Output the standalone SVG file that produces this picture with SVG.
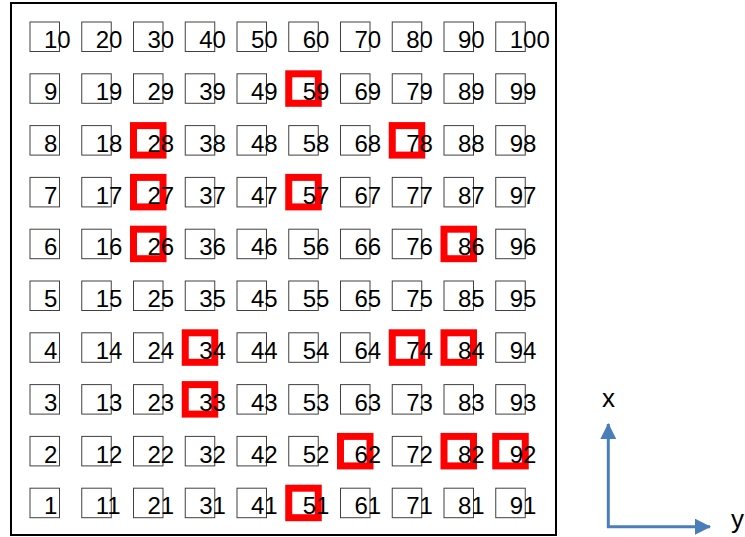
<svg xmlns="http://www.w3.org/2000/svg" width="745" height="537" viewBox="0 0 745 537">
<style>
text{font-family:"Liberation Sans",Arial,sans-serif;font-size:24px;fill:#000}
.lab{font-size:26px}
.b{fill:none;stroke:#404040;stroke-width:1}
.r{fill:none;stroke:#ff0000;stroke-width:7}
.ax{stroke:#4a7ebb;stroke-width:3;fill:none}
</style>
<defs>
<marker id="ah" markerUnits="userSpaceOnUse" markerWidth="16" markerHeight="16" refX="15" refY="8" orient="auto">
<path d="M0,0 L16,8 L0,16 Z" fill="#4a7ebb"/>
</marker>
</defs>
<rect x="11" y="3" width="545" height="532" fill="#fff" stroke="#000" stroke-width="2"/>
<g id="row0">
<g id="n10" transform="translate(30,22)"><rect class="b" width="29.5" height="29.5"/><text x="14" y="26.3">10</text></g>
<g id="n20" transform="translate(81.75,22)"><rect class="b" width="29.5" height="29.5"/><text x="14" y="26.3">20</text></g>
<g id="n30" transform="translate(133.5,22)"><rect class="b" width="29.5" height="29.5"/><text x="14" y="26.3">30</text></g>
<g id="n40" transform="translate(185.25,22)"><rect class="b" width="29.5" height="29.5"/><text x="14" y="26.3">40</text></g>
<g id="n50" transform="translate(237,22)"><rect class="b" width="29.5" height="29.5"/><text x="14" y="26.3">50</text></g>
<g id="n60" transform="translate(288.75,22)"><rect class="b" width="29.5" height="29.5"/><text x="14" y="26.3">60</text></g>
<g id="n70" transform="translate(340.5,22)"><rect class="b" width="29.5" height="29.5"/><text x="14" y="26.3">70</text></g>
<g id="n80" transform="translate(392.25,22)"><rect class="b" width="29.5" height="29.5"/><text x="14" y="26.3">80</text></g>
<g id="n90" transform="translate(444,22)"><rect class="b" width="29.5" height="29.5"/><text x="14" y="26.3">90</text></g>
<g id="n100" transform="translate(495.75,22)"><rect class="b" width="29.5" height="29.5"/><text x="14" y="26.3">100</text></g>
</g>
<g id="row1">
<g id="n9" transform="translate(30,73.8)"><rect class="b" width="29.5" height="29.5"/><text x="14" y="26.3">9</text></g>
<g id="n19" transform="translate(81.75,73.8)"><rect class="b" width="29.5" height="29.5"/><text x="14" y="26.3">19</text></g>
<g id="n29" transform="translate(133.5,73.8)"><rect class="b" width="29.5" height="29.5"/><text x="14" y="26.3">29</text></g>
<g id="n39" transform="translate(185.25,73.8)"><rect class="b" width="29.5" height="29.5"/><text x="14" y="26.3">39</text></g>
<g id="n49" transform="translate(237,73.8)"><rect class="b" width="29.5" height="29.5"/><text x="14" y="26.3">49</text></g>
<g id="n59" transform="translate(288.75,73.8)"><rect class="r" width="29.5" height="29.5"/><text x="14" y="26.3">59</text></g>
<g id="n69" transform="translate(340.5,73.8)"><rect class="b" width="29.5" height="29.5"/><text x="14" y="26.3">69</text></g>
<g id="n79" transform="translate(392.25,73.8)"><rect class="b" width="29.5" height="29.5"/><text x="14" y="26.3">79</text></g>
<g id="n89" transform="translate(444,73.8)"><rect class="b" width="29.5" height="29.5"/><text x="14" y="26.3">89</text></g>
<g id="n99" transform="translate(495.75,73.8)"><rect class="b" width="29.5" height="29.5"/><text x="14" y="26.3">99</text></g>
</g>
<g id="row2">
<g id="n8" transform="translate(30,125.6)"><rect class="b" width="29.5" height="29.5"/><text x="14" y="26.3">8</text></g>
<g id="n18" transform="translate(81.75,125.6)"><rect class="b" width="29.5" height="29.5"/><text x="14" y="26.3">18</text></g>
<g id="n28" transform="translate(133.5,125.6)"><rect class="r" width="29.5" height="29.5"/><text x="14" y="26.3">28</text></g>
<g id="n38" transform="translate(185.25,125.6)"><rect class="b" width="29.5" height="29.5"/><text x="14" y="26.3">38</text></g>
<g id="n48" transform="translate(237,125.6)"><rect class="b" width="29.5" height="29.5"/><text x="14" y="26.3">48</text></g>
<g id="n58" transform="translate(288.75,125.6)"><rect class="b" width="29.5" height="29.5"/><text x="14" y="26.3">58</text></g>
<g id="n68" transform="translate(340.5,125.6)"><rect class="b" width="29.5" height="29.5"/><text x="14" y="26.3">68</text></g>
<g id="n78" transform="translate(392.25,125.6)"><rect class="r" width="29.5" height="29.5"/><text x="14" y="26.3">78</text></g>
<g id="n88" transform="translate(444,125.6)"><rect class="b" width="29.5" height="29.5"/><text x="14" y="26.3">88</text></g>
<g id="n98" transform="translate(495.75,125.6)"><rect class="b" width="29.5" height="29.5"/><text x="14" y="26.3">98</text></g>
</g>
<g id="row3">
<g id="n7" transform="translate(30,177.4)"><rect class="b" width="29.5" height="29.5"/><text x="14" y="26.3">7</text></g>
<g id="n17" transform="translate(81.75,177.4)"><rect class="b" width="29.5" height="29.5"/><text x="14" y="26.3">17</text></g>
<g id="n27" transform="translate(133.5,177.4)"><rect class="r" width="29.5" height="29.5"/><text x="14" y="26.3">27</text></g>
<g id="n37" transform="translate(185.25,177.4)"><rect class="b" width="29.5" height="29.5"/><text x="14" y="26.3">37</text></g>
<g id="n47" transform="translate(237,177.4)"><rect class="b" width="29.5" height="29.5"/><text x="14" y="26.3">47</text></g>
<g id="n57" transform="translate(288.75,177.4)"><rect class="r" width="29.5" height="29.5"/><text x="14" y="26.3">57</text></g>
<g id="n67" transform="translate(340.5,177.4)"><rect class="b" width="29.5" height="29.5"/><text x="14" y="26.3">67</text></g>
<g id="n77" transform="translate(392.25,177.4)"><rect class="b" width="29.5" height="29.5"/><text x="14" y="26.3">77</text></g>
<g id="n87" transform="translate(444,177.4)"><rect class="b" width="29.5" height="29.5"/><text x="14" y="26.3">87</text></g>
<g id="n97" transform="translate(495.75,177.4)"><rect class="b" width="29.5" height="29.5"/><text x="14" y="26.3">97</text></g>
</g>
<g id="row4">
<g id="n6" transform="translate(30,229.2)"><rect class="b" width="29.5" height="29.5"/><text x="14" y="26.3">6</text></g>
<g id="n16" transform="translate(81.75,229.2)"><rect class="b" width="29.5" height="29.5"/><text x="14" y="26.3">16</text></g>
<g id="n26" transform="translate(133.5,229.2)"><rect class="r" width="29.5" height="29.5"/><text x="14" y="26.3">26</text></g>
<g id="n36" transform="translate(185.25,229.2)"><rect class="b" width="29.5" height="29.5"/><text x="14" y="26.3">36</text></g>
<g id="n46" transform="translate(237,229.2)"><rect class="b" width="29.5" height="29.5"/><text x="14" y="26.3">46</text></g>
<g id="n56" transform="translate(288.75,229.2)"><rect class="b" width="29.5" height="29.5"/><text x="14" y="26.3">56</text></g>
<g id="n66" transform="translate(340.5,229.2)"><rect class="b" width="29.5" height="29.5"/><text x="14" y="26.3">66</text></g>
<g id="n76" transform="translate(392.25,229.2)"><rect class="b" width="29.5" height="29.5"/><text x="14" y="26.3">76</text></g>
<g id="n86" transform="translate(444,229.2)"><rect class="r" width="29.5" height="29.5"/><text x="14" y="26.3">86</text></g>
<g id="n96" transform="translate(495.75,229.2)"><rect class="b" width="29.5" height="29.5"/><text x="14" y="26.3">96</text></g>
</g>
<g id="row5">
<g id="n5" transform="translate(30,281)"><rect class="b" width="29.5" height="29.5"/><text x="14" y="26.3">5</text></g>
<g id="n15" transform="translate(81.75,281)"><rect class="b" width="29.5" height="29.5"/><text x="14" y="26.3">15</text></g>
<g id="n25" transform="translate(133.5,281)"><rect class="b" width="29.5" height="29.5"/><text x="14" y="26.3">25</text></g>
<g id="n35" transform="translate(185.25,281)"><rect class="b" width="29.5" height="29.5"/><text x="14" y="26.3">35</text></g>
<g id="n45" transform="translate(237,281)"><rect class="b" width="29.5" height="29.5"/><text x="14" y="26.3">45</text></g>
<g id="n55" transform="translate(288.75,281)"><rect class="b" width="29.5" height="29.5"/><text x="14" y="26.3">55</text></g>
<g id="n65" transform="translate(340.5,281)"><rect class="b" width="29.5" height="29.5"/><text x="14" y="26.3">65</text></g>
<g id="n75" transform="translate(392.25,281)"><rect class="b" width="29.5" height="29.5"/><text x="14" y="26.3">75</text></g>
<g id="n85" transform="translate(444,281)"><rect class="b" width="29.5" height="29.5"/><text x="14" y="26.3">85</text></g>
<g id="n95" transform="translate(495.75,281)"><rect class="b" width="29.5" height="29.5"/><text x="14" y="26.3">95</text></g>
</g>
<g id="row6">
<g id="n4" transform="translate(30,332.8)"><rect class="b" width="29.5" height="29.5"/><text x="14" y="26.3">4</text></g>
<g id="n14" transform="translate(81.75,332.8)"><rect class="b" width="29.5" height="29.5"/><text x="14" y="26.3">14</text></g>
<g id="n24" transform="translate(133.5,332.8)"><rect class="b" width="29.5" height="29.5"/><text x="14" y="26.3">24</text></g>
<g id="n34" transform="translate(185.25,332.8)"><rect class="r" width="29.5" height="29.5"/><text x="14" y="26.3">34</text></g>
<g id="n44" transform="translate(237,332.8)"><rect class="b" width="29.5" height="29.5"/><text x="14" y="26.3">44</text></g>
<g id="n54" transform="translate(288.75,332.8)"><rect class="b" width="29.5" height="29.5"/><text x="14" y="26.3">54</text></g>
<g id="n64" transform="translate(340.5,332.8)"><rect class="b" width="29.5" height="29.5"/><text x="14" y="26.3">64</text></g>
<g id="n74" transform="translate(392.25,332.8)"><rect class="r" width="29.5" height="29.5"/><text x="14" y="26.3">74</text></g>
<g id="n84" transform="translate(444,332.8)"><rect class="r" width="29.5" height="29.5"/><text x="14" y="26.3">84</text></g>
<g id="n94" transform="translate(495.75,332.8)"><rect class="b" width="29.5" height="29.5"/><text x="14" y="26.3">94</text></g>
</g>
<g id="row7">
<g id="n3" transform="translate(30,384.6)"><rect class="b" width="29.5" height="29.5"/><text x="14" y="26.3">3</text></g>
<g id="n13" transform="translate(81.75,384.6)"><rect class="b" width="29.5" height="29.5"/><text x="14" y="26.3">13</text></g>
<g id="n23" transform="translate(133.5,384.6)"><rect class="b" width="29.5" height="29.5"/><text x="14" y="26.3">23</text></g>
<g id="n33" transform="translate(185.25,384.6)"><rect class="r" width="29.5" height="29.5"/><text x="14" y="26.3">33</text></g>
<g id="n43" transform="translate(237,384.6)"><rect class="b" width="29.5" height="29.5"/><text x="14" y="26.3">43</text></g>
<g id="n53" transform="translate(288.75,384.6)"><rect class="b" width="29.5" height="29.5"/><text x="14" y="26.3">53</text></g>
<g id="n63" transform="translate(340.5,384.6)"><rect class="b" width="29.5" height="29.5"/><text x="14" y="26.3">63</text></g>
<g id="n73" transform="translate(392.25,384.6)"><rect class="b" width="29.5" height="29.5"/><text x="14" y="26.3">73</text></g>
<g id="n83" transform="translate(444,384.6)"><rect class="b" width="29.5" height="29.5"/><text x="14" y="26.3">83</text></g>
<g id="n93" transform="translate(495.75,384.6)"><rect class="b" width="29.5" height="29.5"/><text x="14" y="26.3">93</text></g>
</g>
<g id="row8">
<g id="n2" transform="translate(30,436.4)"><rect class="b" width="29.5" height="29.5"/><text x="14" y="26.3">2</text></g>
<g id="n12" transform="translate(81.75,436.4)"><rect class="b" width="29.5" height="29.5"/><text x="14" y="26.3">12</text></g>
<g id="n22" transform="translate(133.5,436.4)"><rect class="b" width="29.5" height="29.5"/><text x="14" y="26.3">22</text></g>
<g id="n32" transform="translate(185.25,436.4)"><rect class="b" width="29.5" height="29.5"/><text x="14" y="26.3">32</text></g>
<g id="n42" transform="translate(237,436.4)"><rect class="b" width="29.5" height="29.5"/><text x="14" y="26.3">42</text></g>
<g id="n52" transform="translate(288.75,436.4)"><rect class="b" width="29.5" height="29.5"/><text x="14" y="26.3">52</text></g>
<g id="n62" transform="translate(340.5,436.4)"><rect class="r" width="29.5" height="29.5"/><text x="14" y="26.3">62</text></g>
<g id="n72" transform="translate(392.25,436.4)"><rect class="b" width="29.5" height="29.5"/><text x="14" y="26.3">72</text></g>
<g id="n82" transform="translate(444,436.4)"><rect class="r" width="29.5" height="29.5"/><text x="14" y="26.3">82</text></g>
<g id="n92" transform="translate(495.75,436.4)"><rect class="r" width="29.5" height="29.5"/><text x="14" y="26.3">92</text></g>
</g>
<g id="row9">
<g id="n1" transform="translate(30,488.2)"><rect class="b" width="29.5" height="29.5"/><text x="14" y="26.3">1</text></g>
<g id="n11" transform="translate(81.75,488.2)"><rect class="b" width="29.5" height="29.5"/><text x="14" y="26.3">11</text></g>
<g id="n21" transform="translate(133.5,488.2)"><rect class="b" width="29.5" height="29.5"/><text x="14" y="26.3">21</text></g>
<g id="n31" transform="translate(185.25,488.2)"><rect class="b" width="29.5" height="29.5"/><text x="14" y="26.3">31</text></g>
<g id="n41" transform="translate(237,488.2)"><rect class="b" width="29.5" height="29.5"/><text x="14" y="26.3">41</text></g>
<g id="n51" transform="translate(288.75,488.2)"><rect class="r" width="29.5" height="29.5"/><text x="14" y="26.3">51</text></g>
<g id="n61" transform="translate(340.5,488.2)"><rect class="b" width="29.5" height="29.5"/><text x="14" y="26.3">61</text></g>
<g id="n71" transform="translate(392.25,488.2)"><rect class="b" width="29.5" height="29.5"/><text x="14" y="26.3">71</text></g>
<g id="n81" transform="translate(444,488.2)"><rect class="b" width="29.5" height="29.5"/><text x="14" y="26.3">81</text></g>
<g id="n91" transform="translate(495.75,488.2)"><rect class="b" width="29.5" height="29.5"/><text x="14" y="26.3">91</text></g>
</g>
<g id="axes">
<path class="ax" d="M608.3,528 V424" marker-end="url(#ah)"/>
<path class="ax" d="M607,526.7 H710" marker-end="url(#ah)"/>
<text class="lab" x="602" y="407">x</text>
<text class="lab" x="731" y="528">y</text>
</g>
</svg>
